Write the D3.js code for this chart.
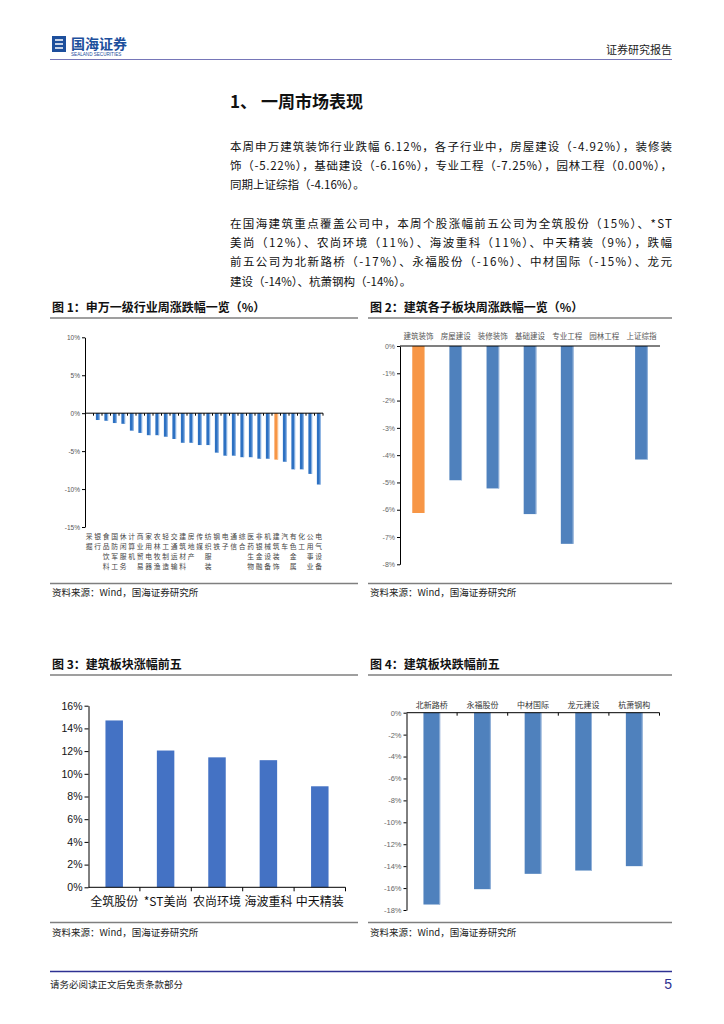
<!DOCTYPE html>
<html>
<head>
<meta charset="utf-8">
<script src="https://cdn.jsdelivr.net/npm/d3@7"></script>
<style>
  body { margin: 0; background: #fff; }
  svg { display: block; }
  .cjk { font-family: "Noto Sans CJK SC", "Noto Sans", sans-serif; }
  .num { font-family: "Liberation Sans", Arial, sans-serif; }
</style>
</head>
<body>
<div id="page"></div>
<script>
'use strict';

// ---- data ----
var industryNames = ['采掘', '银行', '食品饮料', '国防军工', '休闲服务', '计算机', '商业贸易', '家用电器', '农林牧渔', '轻工制造',
    '交通运输', '建筑材料', '房地产', '传媒', '纺织服装', '钢铁', '电子', '通信', '综合', '医药生物',
    '非银金融', '机械设备', '建筑装饰', '汽车', '有色金属', '化工', '公用事业', '电气设备'];
var industryValues = [0, -0.9, -1.0, -1.3, -1.4, -2.3, -2.6, -2.9, -2.9, -3.1,
    -3.4, -3.9, -3.9, -4.2, -4.2, -5.2, -5.6, -5.6, -5.8, -5.8,
    -6.0, -6.0, -6.12, -6.4, -7.4, -7.4, -8.0, -9.4];
var industryTicks = [10, 5, 0, -5, -10, -15];

var sectorNames = ['建筑装饰', '房屋建设', '装修装饰', '基础建设', '专业工程', '园林工程', '上证综指'];
var sectorValues = [-6.12, -4.92, -5.22, -6.16, -7.25, 0.00, -4.16];
var sectorTicks = [0, -1, -2, -3, -4, -5, -6, -7, -8];

var gainNames = ['全筑股份', '*ST美尚', '农尚环境', '海波重科', '中天精装'];
var gainValues = [14.7, 12.05, 11.45, 11.2, 8.9];
var gainTicks = [0, 2, 4, 6, 8, 10, 12, 14, 16];

var lossNames = ['北新路桥', '永福股份', '中材国际', '龙元建设', '杭萧钢构'];
var lossValues = [-17.5, -16.1, -14.7, -14.4, -14.0];
var lossTicks = [0, -2, -4, -6, -8, -10, -12, -14, -16, -18];

var para1 = [
    '本周申万建筑装饰行业跌幅 6.12%，各子行业中，房屋建设（-4.92%），装修装',
    '饰（-5.22%），基础建设（-6.16%），专业工程（-7.25%），园林工程（0.00%），',
    '同期上证综指（-4.16%）。'
];
var para2 = [
    '在国海建筑重点覆盖公司中，本周个股涨幅前五公司为全筑股份（15%）、*ST',
    '美尚（12%）、农尚环境（11%）、海波重科（11%）、中天精装（9%），跌幅',
    '前五公司为北新路桥（-17%）、永福股份（-16%）、中材国际（-15%）、龙元',
    '建设（-14%）、杭萧钢构（-14%）。'
];

var svg = d3.select('#page').append('svg').attr('width', 724).attr('height', 1024);

// ---- header / footer ----
var logo = svg.append('g').attr('transform', 'translate(52,36)');
logo.append('rect').attr('width', 14).attr('height', 16).attr('fill', '#1d4f9c');
logo.append('path').attr('d', 'M3,4 h8 M3,8 h8 M3,12 h8').attr('stroke', '#fff').attr('stroke-width', 1.4);
svg.append('text').attr('class', 'cjk').attr('x', 71).attr('y', 49)
    .attr('font-size', 14).attr('font-weight', 'bold').attr('fill', '#1d4f9c').text('国海证券');
svg.append('text').attr('class', 'num').attr('x', 71).attr('y', 56)
    .attr('font-size', 4.6).attr('fill', '#1d4f9c').text('SEALAND SECURITIES');
svg.append('text').attr('class', 'cjk').attr('x', 672).attr('y', 54).attr('text-anchor', 'end')
    .attr('font-size', 11).attr('fill', '#222').text('证券研究报告');
svg.append('line').attr('x1', 50).attr('x2', 672).attr('y1', 59.5).attr('y2', 59.5)
    .attr('stroke', '#7676b8').attr('stroke-width', 1.2);

svg.append('line').attr('x1', 50).attr('x2', 672).attr('y1', 971.5).attr('y2', 971.5)
    .attr('stroke', '#2e3192').attr('stroke-width', 1.4);
svg.append('text').attr('class', 'cjk').attr('x', 50).attr('y', 988)
    .attr('font-size', 9.5).attr('fill', '#222').text('请务必阅读正文后免责条款部分');
svg.append('text').attr('class', 'num').attr('x', 672).attr('y', 989).attr('text-anchor', 'end')
    .attr('font-size', 14).attr('fill', '#2e3192').text('5');

// ---- section text ----
svg.append('text').attr('class', 'cjk').attr('x', 230).attr('y', 108)
    .attr('font-size', 17).attr('font-weight', 'bold').attr('fill', '#111').text('1、 一周市场表现');

var drawPara = function drawPara(lines, y0) {
    lines.forEach(function (line, i) {
        var t = svg.append('text').attr('class', 'cjk').attr('x', 230).attr('y', y0 + i * 19.2)
            .attr('font-size', 11.5).attr('fill', '#111').text(line);
        if (i < lines.length - 1) {
            t.attr('textLength', 442).attr('lengthAdjust', 'spacing');
        }
    });
};
drawPara(para1, 151);
drawPara(para2, 228);

// ---- chart frames ----
var frame = function frame(x0, x1, yTitle, title, yLine, ySource) {
    svg.append('text').attr('class', 'cjk').attr('x', x0 + 2).attr('y', yTitle)
        .attr('font-size', 12).attr('font-weight', 'bold').attr('fill', '#111').text(title);
    svg.append('line').attr('x1', x0).attr('x2', x1).attr('y1', yTitle + 6).attr('y2', yTitle + 6)
        .attr('stroke', '#7f7f7f').attr('stroke-width', 1.5);
    svg.append('line').attr('x1', x0).attr('x2', x1).attr('y1', yLine).attr('y2', yLine)
        .attr('stroke', '#7f7f7f').attr('stroke-width', 1.5);
    svg.append('text').attr('class', 'cjk').attr('x', x0 + 2).attr('y', ySource)
        .attr('font-size', 9.5).attr('fill', '#222').text('资料来源：Wind，国海证券研究所');
};
frame(50, 358, 312, '图 1：申万一级行业周涨跌幅一览（%）', 583.5, 596);
frame(368, 672, 312, '图 2：建筑各子板块周涨跌幅一览（%）', 583.5, 596);
frame(50, 358, 669, '图 3：建筑板块涨幅前五', 922.5, 936);
frame(368, 672, 669, '图 4：建筑板块跌幅前五', 922.5, 936);

// ---- generic bar chart ----
var BarChart = function BarChart(opt) {

    var x = d3.scaleBand().domain(opt.names).range([opt.left, opt.right]).paddingInner(opt.pad).paddingOuter(opt.pad / 2);
    var y = d3.scaleLinear().domain(opt.domain).range([opt.top, opt.bottom]);
    var g = svg.append('g');

    // y axis
    var yAxis = d3.axisLeft(y).tickValues(opt.ticks).tickSize(opt.tickLen).tickSizeOuter(0)
        .tickFormat(function (d) { return d + '%'; });
    var ya = g.append('g').attr('transform', 'translate(' + opt.left + ',0)').call(yAxis);
    ya.select('.domain').attr('stroke', '#000').attr('stroke-width', 1);
    ya.selectAll('.tick line').attr('stroke', '#000');
    ya.selectAll('.tick text').attr('class', 'num').attr('font-size', opt.tickFont)
        .attr('fill', opt.tickColor).attr('x', -opt.tickLen - 2);

    // bars
    var zero = y(0);
    g.selectAll('.bar').data(opt.values).enter().append('rect')
        .attr('x', function (d, i) { return x(opt.names[i]); })
        .attr('y', function (d) { return Math.min(zero, y(d)); })
        .attr('width', x.bandwidth())
        .attr('height', function (d) { return Math.abs(y(d) - zero); })
        .attr('fill', function (d, i) { return opt.highlight === i ? opt.hiColor : opt.color; });

    if (opt.edge) {
        g.selectAll('.edge').data(opt.values).enter().append('rect')
            .attr('x', function (d, i) { return x(opt.names[i]) + x.bandwidth() - 0.9; })
            .attr('y', function (d) { return Math.min(zero, y(d)); })
            .attr('width', 0.9)
            .attr('height', function (d) { return Math.abs(y(d) - zero); })
            .attr('fill', function (d, i) { return opt.highlight === i ? '#fbc99a' : opt.edge; });
    }

    // x axis line at zero with boundary ticks
    g.append('line').attr('x1', opt.left).attr('x2', opt.right).attr('y1', zero).attr('y2', zero)
        .attr('stroke', '#000').attr('stroke-width', 1);
    var bounds = opt.names.map(function (n) { return x(n) - x.step() * x.paddingInner() / 2; });
    bounds.push(opt.right);
    g.selectAll('.xt').data(bounds.slice(1)).enter().append('line')
        .attr('x1', function (d) { return d; }).attr('x2', function (d) { return d; })
        .attr('y1', zero).attr('y2', zero + opt.xTickLen)
        .attr('stroke', '#000');

    // category labels
    var lab = g.selectAll('.lab').data(opt.names).enter().append('text')
        .attr('class', 'cjk').attr('text-anchor', 'middle')
        .attr('font-size', opt.labFont).attr('fill', opt.labColor);
    if (opt.vertical) {
        lab.each(function (n) {
            var t = d3.select(this);
            n.split('').forEach(function (c, k) {
                t.append('tspan').attr('x', x(n) + x.bandwidth() / 2).attr('y', opt.labY + k * 9.9).text(c);
            });
        });
    } else {
        lab.attr('x', function (n) { return x(n) + x.bandwidth() / 2; }).attr('y', opt.labY)
            .text(function (n) { return n; });
    }
};

BarChart({
    names: industryNames, values: industryValues, domain: [10, -15], ticks: industryTicks,
    left: 85, right: 323, top: 337.3, bottom: 527, pad: 0.56,
    color: '#2d71c2', edge: '#9fc0e8', hiColor: '#f79646', highlight: 22,
    tickLen: 3, tickFont: 6.5, tickColor: '#555', xTickLen: 2.5,
    labFont: 6.8, labColor: '#444', labY: 539, vertical: true
});

BarChart({
    names: sectorNames, values: sectorValues, domain: [0, -8], ticks: sectorTicks,
    left: 400, right: 660, top: 346, bottom: 564.3, pad: 0.66,
    color: '#4f81bd', edge: '#9ab7dc', hiColor: '#f79646', highlight: 0,
    tickLen: 3, tickFont: 7, tickColor: '#666', xTickLen: 0,
    labFont: 7.5, labColor: '#555', labY: 339, vertical: false
});

BarChart({
    names: gainNames, values: gainValues, domain: [16, 0], ticks: gainTicks,
    left: 88.5, right: 345.5, top: 705.7, bottom: 887.3, pad: 0.66,
    color: '#4472c4', edge: null, hiColor: '#4472c4', highlight: -1,
    tickLen: 4, tickFont: 10.5, tickColor: '#111', xTickLen: 4,
    labFont: 12, labColor: '#111', labY: 906, vertical: false
});

BarChart({
    names: lossNames, values: lossValues, domain: [0, -18], ticks: lossTicks,
    left: 406.5, right: 659.5, top: 712.7, bottom: 910, pad: 0.67,
    color: '#4f81bd', edge: '#9ab7dc', hiColor: '#4f81bd', highlight: -1,
    tickLen: 3, tickFont: 7.5, tickColor: '#666', xTickLen: 3,
    labFont: 8, labColor: '#333', labY: 707.5, vertical: false
});
</script>
</body>
</html>
